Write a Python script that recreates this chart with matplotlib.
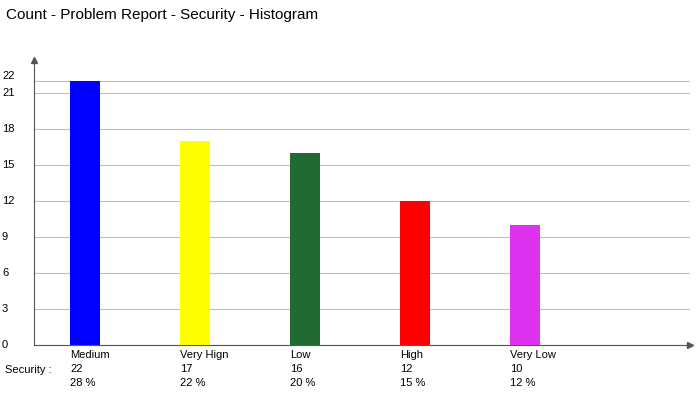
import matplotlib
matplotlib.use("Agg")
import matplotlib.pyplot as plt
import matplotlib.transforms as mtransforms

categories = ["Medium", "Very Hign", "Low", "High", "Very Low"]
counts = [22, 17, 16, 12, 10]
percents = ["28 %", "22 %", "20 %", "15 %", "12 %"]
colors = ["#0000ff", "#ffff00", "#216a34", "#ff0000", "#dd33ee"]
yticks = [0, 3, 6, 9, 12, 15, 18, 21, 22]

plt.rcParams['font.family'] = ['Liberation Sans', 'DejaVu Sans']

fig = plt.figure(figsize=(7, 4), dpi=100)
ax = fig.add_axes([34 / 700, 55 / 400, 656 / 700, 285 / 400])

x = list(range(len(categories)))
ax.bar(x, counts, width=30 / 110, color=colors, zorder=3)
ax.set_xlim(-51 / 110, 605 / 110)
ax.set_ylim(0, 23.75)
ax.set_yticks(yticks)
ax.set_yticklabels([])
ax.set_xticks([])
ax.tick_params(axis='y', length=0)
ax.grid(axis='y', color='#c0c0c0', linewidth=0.8, zorder=0)
for s in ['top', 'right']:
    ax.spines[s].set_visible(False)
for s in ['left', 'bottom']:
    ax.spines[s].set_color('#555555')
    ax.spines[s].set_linewidth(0.8)

# y tick labels, left-aligned at the figure edge
trans = mtransforms.blended_transform_factory(fig.transFigure, ax.transData)
for v in yticks:
    ax.text(2 / 700, v, str(v), transform=trans, fontsize=8, ha='left',
            va='bottom' if v == 22 else 'center', clip_on=False)

# axis arrows
ax.plot(1, 0, ">", color='#555555', markersize=4, transform=ax.transAxes, clip_on=False)
ax.plot(0, 1, "^", color='#555555', markersize=4, transform=ax.transAxes, clip_on=False)

fig.text(6 / 700, 1 - 15 / 400, "Count - Problem Report - Security - Histogram",
         fontsize=11, va='center', ha='left')
fig.text(5 / 700, 1 - 370 / 400, "Security :", fontsize=8, va='center', ha='left')
for i, (c, n, p) in enumerate(zip(categories, counts, percents)):
    xl = (70 + 110 * i) / 700
    fig.text(xl, 1 - 355 / 400, c, fontsize=8, va='center', ha='left')
    fig.text(xl, 1 - 369 / 400, str(n), fontsize=8, va='center', ha='left')
    fig.text(xl, 1 - 383 / 400, p, fontsize=8, va='center', ha='left')

fig.savefig("out.png", dpi=100)
